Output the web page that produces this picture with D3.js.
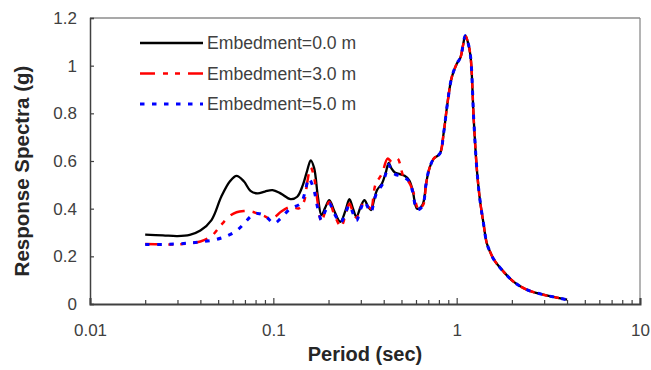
<!DOCTYPE html>
<html>
<head>
<meta charset="utf-8">
<script src="https://cdn.jsdelivr.net/npm/d3@7"></script>
<style>
  body { margin: 0; background: #fff; }
  text { font-family: "Liberation Sans", Arial, sans-serif; }
</style>
</head>
<body>
<div id="chart"></div>
<script>
// periods (sec) and spectral accel (g)
var period0 = [0.02, 0.025, 0.03, 0.035, 0.04, 0.046, 0.052, 0.058, 0.063, 0.069, 0.075, 0.082, 0.09, 0.099, 0.11, 0.124, 0.135, 0.145, 0.153, 0.16, 0.167, 0.175, 0.183, 0.192, 0.202, 0.215, 0.232, 0.247, 0.26, 0.272, 0.284, 0.3, 0.314, 0.328, 0.341, 0.355, 0.368, 0.392, 0.41, 0.426, 0.44, 0.46, 0.49, 0.52, 0.55, 0.575, 0.608, 0.65, 0.68, 0.705, 0.75, 0.81, 0.85, 0.89, 0.94, 1.0, 1.05, 1.08, 1.115, 1.15, 1.19, 1.24, 1.29, 1.34, 1.4, 1.46, 1.53, 1.6, 1.8, 2.04, 2.41, 2.97, 3.5, 4.0];
var sa0 = [0.291, 0.288, 0.285, 0.29, 0.308, 0.352, 0.45, 0.515, 0.538, 0.515, 0.475, 0.464, 0.472, 0.478, 0.463, 0.44, 0.45, 0.5, 0.56, 0.603, 0.57, 0.45, 0.373, 0.405, 0.436, 0.39, 0.345, 0.39, 0.44, 0.4, 0.366, 0.41, 0.436, 0.41, 0.394, 0.44, 0.478, 0.507, 0.55, 0.592, 0.57, 0.552, 0.545, 0.538, 0.52, 0.478, 0.4, 0.415, 0.5, 0.561, 0.61, 0.631, 0.72, 0.84, 0.951, 1.007, 1.035, 1.08, 1.126, 1.1, 1.04, 0.77, 0.561, 0.436, 0.339, 0.255, 0.215, 0.185, 0.136, 0.094, 0.06, 0.039, 0.027, 0.018];

var period3 = [0.02, 0.025, 0.03, 0.035, 0.04, 0.046, 0.052, 0.058, 0.063, 0.069, 0.075, 0.082, 0.09, 0.097, 0.104, 0.11, 0.124, 0.138, 0.147, 0.153, 0.16, 0.167, 0.175, 0.183, 0.192, 0.202, 0.215, 0.234, 0.247, 0.26, 0.272, 0.284, 0.3, 0.314, 0.328, 0.341, 0.36, 0.392, 0.42, 0.443, 0.475, 0.514, 0.55, 0.58, 0.62, 0.66, 0.68, 0.705, 0.75, 0.81, 0.85, 0.89, 0.94, 1.0, 1.05, 1.08, 1.115, 1.15, 1.19, 1.24, 1.29, 1.34, 1.4, 1.46, 1.53, 1.6, 1.8, 2.04, 2.41, 2.97, 3.5, 4.0];
var sa3 = [0.252, 0.25, 0.25, 0.255, 0.262, 0.285, 0.332, 0.37, 0.385, 0.39, 0.389, 0.38, 0.368, 0.357, 0.37, 0.387, 0.408, 0.401, 0.43, 0.51, 0.573, 0.53, 0.42, 0.345, 0.39, 0.429, 0.375, 0.325, 0.37, 0.422, 0.385, 0.362, 0.405, 0.429, 0.41, 0.4, 0.499, 0.548, 0.61, 0.596, 0.61, 0.533, 0.51, 0.47, 0.397, 0.42, 0.5, 0.561, 0.61, 0.631, 0.72, 0.84, 0.951, 1.007, 1.035, 1.08, 1.126, 1.1, 1.04, 0.77, 0.561, 0.436, 0.339, 0.255, 0.215, 0.185, 0.136, 0.094, 0.06, 0.039, 0.027, 0.018];

var period5 = [0.02, 0.025, 0.03, 0.035, 0.0385, 0.0475, 0.056, 0.0636, 0.0706, 0.076, 0.082, 0.09, 0.101, 0.11, 0.124, 0.141, 0.15, 0.156, 0.165, 0.175, 0.183, 0.192, 0.202, 0.215, 0.2325, 0.247, 0.26, 0.272, 0.284, 0.3, 0.314, 0.328, 0.341, 0.355, 0.368, 0.392, 0.41, 0.426, 0.44, 0.46, 0.49, 0.52, 0.55, 0.575, 0.608, 0.65, 0.68, 0.705, 0.75, 0.81, 0.85, 0.89, 0.94, 1.0, 1.05, 1.08, 1.115, 1.15, 1.19, 1.24, 1.29, 1.34, 1.4, 1.46, 1.53, 1.6, 1.8, 2.04, 2.41, 2.97, 3.5, 4.0];
var sa5 = [0.25, 0.25, 0.252, 0.256, 0.259, 0.269, 0.286, 0.31, 0.345, 0.37, 0.38, 0.37, 0.339, 0.36, 0.401, 0.422, 0.48, 0.527, 0.49, 0.4, 0.352, 0.39, 0.422, 0.38, 0.341, 0.38, 0.415, 0.38, 0.35, 0.4, 0.43, 0.405, 0.385, 0.435, 0.47, 0.5, 0.545, 0.585, 0.56, 0.545, 0.538, 0.53, 0.515, 0.472, 0.395, 0.41, 0.5, 0.561, 0.61, 0.631, 0.72, 0.84, 0.951, 1.007, 1.035, 1.08, 1.126, 1.1, 1.04, 0.77, 0.561, 0.436, 0.339, 0.255, 0.215, 0.185, 0.136, 0.094, 0.06, 0.039, 0.027, 0.018];

var seriesNames = ["Embedment=0.0 m", "Embedment=3.0 m", "Embedment=5.0 m"];
var xMajor = [0.01, 0.1, 1, 10];
var xMinor = [0.02, 0.03, 0.04, 0.05, 0.06, 0.07, 0.08, 0.09, 0.2, 0.3, 0.4, 0.5, 0.6, 0.7, 0.8, 0.9, 2, 3, 4, 5, 6, 7, 8, 9];
var yTicks = [0, 0.2, 0.4, 0.6, 0.8, 1, 1.2];

var W = 651, H = 370;
var plotL = 90, plotR = 640, plotT = 18, plotB = 304;

var svg = d3.select("#chart").append("svg")
    .attr("width", W)
    .attr("height", H)

var x = d3.scaleLog().domain([0.01, 10]).range([plotL, plotR])
var y = d3.scaleLinear().domain([0, 1.2]).range([plotB, plotT])

// frame top / right
svg.append("line").attr("x1", plotL).attr("x2", plotR).attr("y1", plotT).attr("y2", plotT)
    .attr("stroke", "#8c8c8c").attr("stroke-width", 1.3)
svg.append("line").attr("x1", plotR).attr("x2", plotR).attr("y1", plotT).attr("y2", plotB)
    .attr("stroke", "#8c8c8c").attr("stroke-width", 1.3)

// x axis, ticks point up into the plot
var gx = svg.append("g").attr("transform", "translate(0," + plotB + ")")
    .call(d3.axisBottom(x).tickValues(xMajor).tickSize(-6).tickPadding(20)
        .tickFormat(function(d) { return d >= 1 ? d3.format("d")(d) : String(d) }))
gx.select(".domain").attr("stroke", "#404040").attr("stroke-width", 2)
gx.selectAll(".tick line").attr("stroke", "#404040").attr("stroke-width", 1.2)
gx.selectAll("text").attr("font-size", 17).attr("fill", "#404040")

var gxm = svg.append("g").attr("transform", "translate(0," + plotB + ")")
    .call(d3.axisBottom(x).tickValues(xMinor).tickSize(-4).tickFormat(""))
gxm.select(".domain").remove()
gxm.selectAll(".tick line").attr("stroke", "#404040").attr("stroke-width", 1.2)

// y axis, ticks point right into the plot
var gy = svg.append("g").attr("transform", "translate(" + plotL + ",0)")
    .call(d3.axisLeft(y).tickValues(yTicks).tickSize(-4).tickPadding(13)
        .tickFormat(function(d) { return String(+d.toFixed(1)) }))
gy.select(".domain").attr("stroke", "#404040").attr("stroke-width", 1.5)
gy.selectAll(".tick line").attr("stroke", "#404040").attr("stroke-width", 1.2)
gy.selectAll("text").attr("font-size", 17).attr("fill", "#404040")

// titles
svg.append("text")
    .attr("x", (plotL + plotR) / 2).attr("y", 361)
    .attr("text-anchor", "middle").attr("font-size", 20).attr("font-weight", "bold")
    .attr("fill", "#262626")
    .text("Period (sec)")

svg.append("text")
    .attr("transform", "translate(29," + ((plotT + plotB) / 2 + 10) + ") rotate(-90)")
    .attr("text-anchor", "middle").attr("font-size", 20.5).attr("font-weight", "bold")
    .attr("fill", "#262626")
    .text("Response Spectra (g)")

var line = d3.line()
    .x(function(d) { return x(d[0]) })
    .y(function(d) { return y(d[1]) })
    .curve(d3.curveCatmullRom.alpha(0.5))

var series = [
  { name: seriesNames[0], data: d3.zip(period0, sa0), color: "#000000", dash: null, width: 2.3 },
  { name: seriesNames[1], data: d3.zip(period3, sa3), color: "#ff0000", dash: "15,8,5,7,5,8", width: 2.5 },
  { name: seriesNames[2], data: d3.zip(period5, sa5), color: "#0000ff", dash: "4.5,7.5", width: 3 }
]

svg.selectAll(".series")
    .data(series)
    .enter()
    .append("path")
    .attr("class", "series")
    .attr("fill", "none")
    .attr("stroke", function(d) { return d.color })
    .attr("stroke-width", function(d) { return d.width })
    .attr("stroke-dasharray", function(d) { return d.dash })
    .attr("d", function(d) { return line(d.data) })

// legend
var leg = svg.selectAll(".leg")
    .data(series)
    .enter()
    .append("g")
    .attr("class", "leg")
    .attr("transform", function(d, i) { return "translate(140," + (43 + i * 30.5) + ")" })

leg.append("line")
    .attr("x1", 0).attr("x2", 63).attr("y1", 0).attr("y2", 0)
    .attr("stroke", function(d) { return d.color })
    .attr("stroke-width", function(d) { return d.width })
    .attr("stroke-dasharray", function(d) { return d.dash })

leg.append("text")
    .attr("x", 67).attr("dy", "0.35em")
    .attr("font-size", 17.6).attr("fill", "#404040")
    .text(function(d) { return d.name })
</script>
</body>
</html>
